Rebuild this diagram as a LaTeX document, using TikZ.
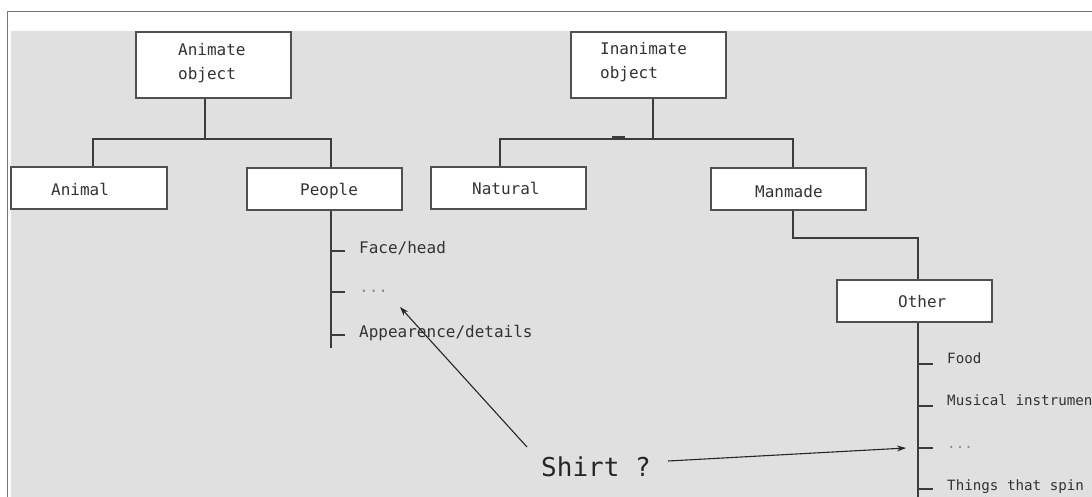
\documentclass[tikz,border=0pt]{standalone}
\usepackage{fontspec}
\setmonofont{DejaVu Sans Mono}
\usetikzlibrary{arrows.meta}
\definecolor{panel}{HTML}{E0E0E0}
\definecolor{framecol}{HTML}{767676}
\definecolor{boxline}{HTML}{505050}
\definecolor{linkcol}{HTML}{3C3C3C}
\definecolor{textcol}{HTML}{333333}
\definecolor{dimtext}{HTML}{8A8A8A}
\begin{document}
\begin{tikzpicture}[x=1pt,y=-1pt,
  box/.style={draw=boxline, fill=white, line width=1.4pt, inner sep=0pt},
  link/.style={draw=linkcol, line width=1.7pt},
  lbl/.style={anchor=base west, inner sep=0pt, text=textcol,
    font=\ttfamily\fontsize{16}{24}\selectfont},
  small/.style={lbl, font=\ttfamily\fontsize{14.2}{20}\selectfont},
  dim/.style={text=dimtext},
  pointer/.style={draw=black!85, line width=1.1pt,
    -{Stealth[length=9pt,width=6pt]}}
]
\useasboundingbox (0,0) rectangle (1092,497);
\clip (0,0) rectangle (1092,497);

% page frame and grey panel
\fill[white] (0,0) rectangle (1092,497);
\fill[panel] (10.5,31) rectangle (1092,497);
\draw[framecol, line width=1.8pt] (7.5,497) -- (7.5,11.5) -- (1092,11.5);

% boxes
\node[box, minimum width=155pt, minimum height=66pt] (animate)   at (213.5,65) {};
\node[box, minimum width=155pt, minimum height=66pt] (inanimate) at (648.5,65) {};
\node[box, minimum width=156pt, minimum height=42pt] (animal)    at (89,188) {};
\node[box, minimum width=155pt, minimum height=42pt] (people)    at (324.5,189) {};
\node[box, minimum width=155pt, minimum height=42pt] (natural)   at (508.5,188) {};
\node[box, minimum width=155pt, minimum height=42pt] (manmade)   at (788.5,189) {};
\node[box, minimum width=155pt, minimum height=42pt] (other)     at (914.5,301) {};

% box captions
\node[lbl] (tAnimate)   at (178,56)  {Animate};
\node[lbl] (tAobject)   at (178,80)  {object};
\node[lbl] (tInanimate) at (600,55)  {Inanimate};
\node[lbl] (tIobject)   at (600,79)  {object};
\node[lbl] (tAnimal)    at (51,196)  {Animal};
\node[lbl] (tPeople)    at (300,196) {People};
\node[lbl] (tNatural)   at (472,195) {Natural};
\node[lbl] (tManmade)   at (755,197) {Manmade};
\node[lbl] (tOther)     at (898,307) {Other};

% animate branch
\draw[link] ([xshift=-8.5pt]animate.south) -- ++(0,40) coordinate (aJ);
\draw[link] ([xshift=4pt]animal.north) |- (aJ) -| ([xshift=6.5pt]people.north);

% inanimate branch
\draw[link] ([xshift=4.5pt]inanimate.south) -- ++(0,40) coordinate (iJ);
\draw[link] ([xshift=-8.5pt]natural.north) |- (iJ) -| ([xshift=4.5pt]manmade.north);
\draw[linkcol, line width=3pt] (612,138) -- (625,138);

% manmade to other
\draw[link] ([xshift=4.5pt]manmade.south) -- ++(0,27) coordinate (mJ)
  -| ([xshift=3.5pt]other.north);

% people sub-list
\coordinate (pEnd) at (331,348);
\draw[link] ([xshift=6.5pt]people.south) -- (pEnd);
\node[lbl] (face) at (359,253) {Face/head};
\node[lbl, dim] (pdots) at (359,292) {...};
\node[lbl] (appear) at (359,337) {Appearence/details};
\foreach \ty in {251,292,335} \draw[link] (331,\ty) -- (345,\ty);

% other sub-list (runs past the right edge)
\coordinate (oEnd) at (918,497);
\draw[link] ([xshift=3.5pt]other.south) -- (oEnd);
\node[small] (food) at (947,363) {Food};
\node[small] (music) at (947,405) {Musical instrument};
\node[small, dim] (odots) at (947,448) {...};
\node[small] (spin) at (947,490) {Things that spin};
\foreach \ty in {364,406,448,489} \draw[link] (918,\ty) -- (933,\ty);

% question and pointers
\node[lbl, text=black!85, font=\ttfamily\fontsize{26}{30}\selectfont] (shirt) at (541,476) {Shirt ?};
\coordinate (sR) at (668,461);
\coordinate (sL) at (527,447);
\coordinate (tipR) at (906,448);
\coordinate (tipL) at (400,307);
\draw[pointer] (sR) -- (tipR);
\draw[pointer] (sL) -- (tipL);
\end{tikzpicture}
\end{document}
